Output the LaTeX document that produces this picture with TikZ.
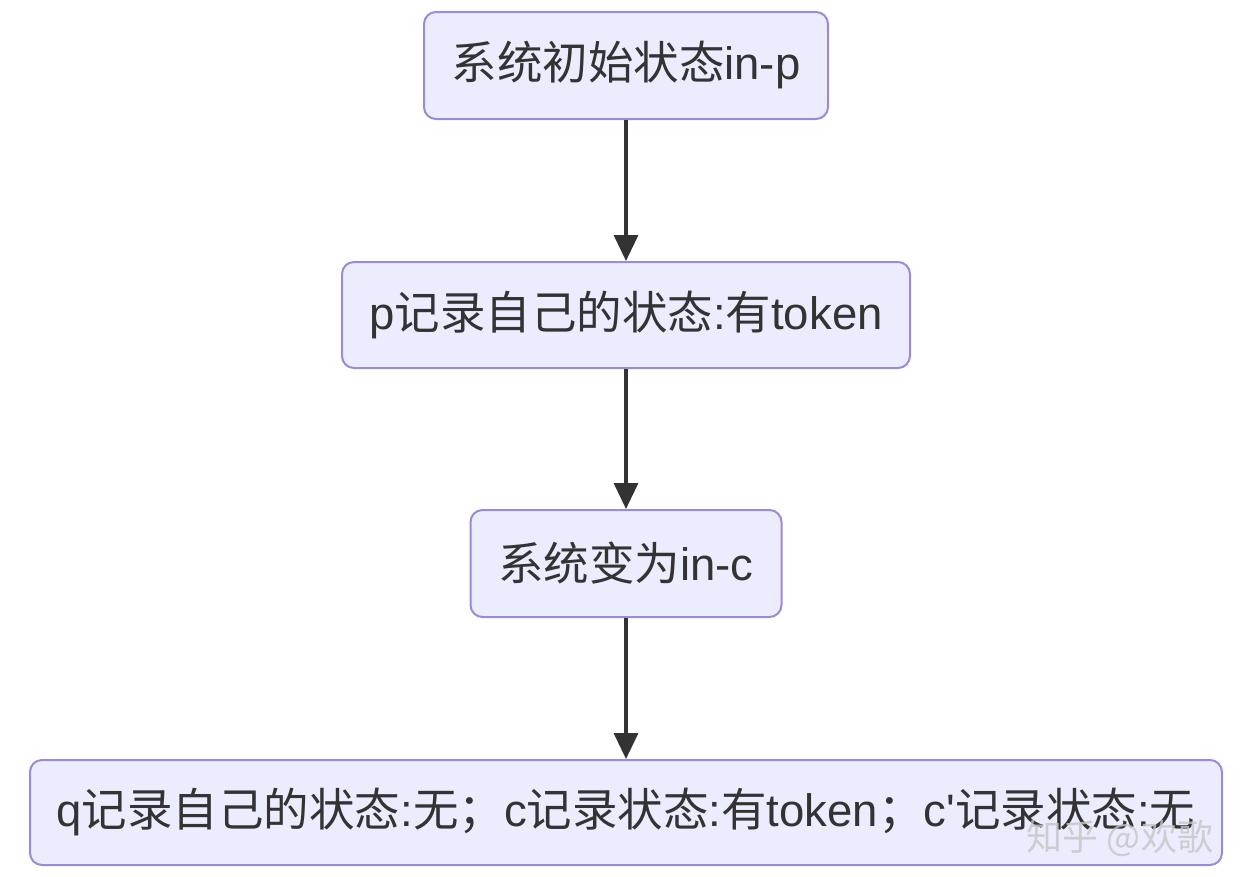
\documentclass[tikz,border=0pt]{standalone}
\usepackage{fontspec}
\setmainfont{Liberation Sans}
\newfontfamily\cjk{Noto Sans CJK SC}
\usetikzlibrary{arrows.meta}
\definecolor{boxfill}{HTML}{ECECFF}
\definecolor{boxline}{HTML}{9A8AD8}
\definecolor{txt}{HTML}{333333}
\tikzset{
  flowbox/.style={draw=boxline, fill=boxfill, line width=2pt, rounded corners=12pt,
    text=txt, font=\fontsize{45.5}{52}\selectfont, inner sep=0pt, anchor=center},
  flowarrow/.style={draw=txt, line width=3.4pt, -{Triangle[width=24pt,length=26pt]}}
}
\begin{document}
\begin{tikzpicture}[x=1pt,y=-1pt]
\useasboundingbox[fill=white] (0,0) rectangle (1246,876);
\node[flowbox, minimum width=404pt, minimum height=107pt] (a) at (626,65.5) {{\cjk 系统初始状态}in-p};
\node[flowbox, minimum width=568pt, minimum height=106pt] (b) at (626,315) {p{\cjk 记录自己的状态}:{\cjk 有}token};
\node[flowbox, minimum width=311pt, minimum height=107pt] (c) at (626,563.5) {{\cjk 系统变为}in-c};
\node[flowbox, minimum width=1192pt, minimum height=105pt] (d) at (626,812.5) {q{\cjk 记录自己的状态}:{\cjk 无；}c{\cjk 记录状态}:{\cjk 有}token{\cjk ；}c\textquotesingle{\cjk 记录状态}:{\cjk 无}};
\draw[flowarrow] (a) -- (b);
\draw[flowarrow] (b) -- (c);
\draw[flowarrow] (c) -- (d);
\node[text=gray!45, opacity=0.8, font=\cjk\fontsize{36}{40}\selectfont, anchor=center] (wm) at (1120,838) {知乎 @欢歌};
\end{tikzpicture}
\end{document}
